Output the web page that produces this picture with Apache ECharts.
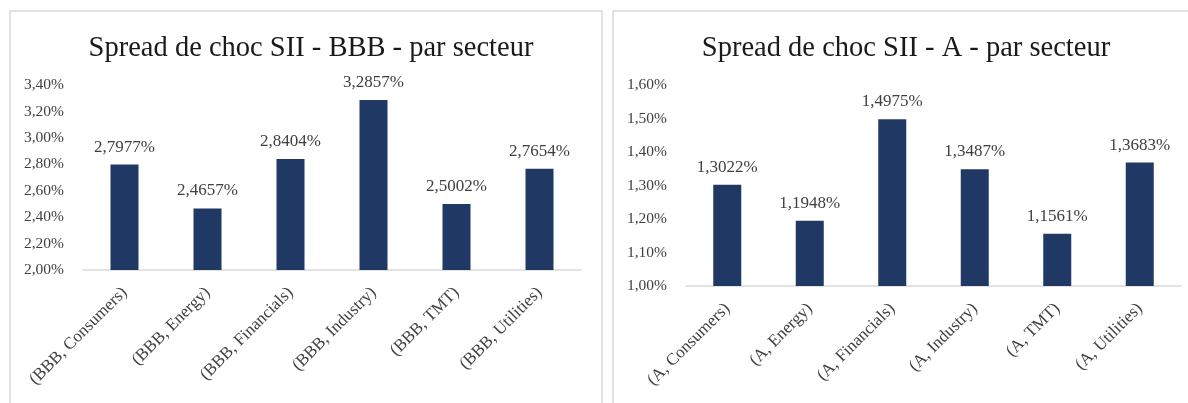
<!DOCTYPE html>
<html><head><meta charset="utf-8">
<script src="https://cdn.jsdelivr.net/npm/echarts@6/dist/echarts.min.js"></script>
<style>html,body{margin:0;padding:0;background:#fff}#c{width:1188px;height:403px}</style>
</head><body><div id="c"></div>
<script>
const titleBBB = 'Spread de choc SII - BBB - par secteur';
const titleA = 'Spread de choc SII - A - par secteur';
const catsBBB = ['(BBB, Consumers)','(BBB, Energy)','(BBB, Financials)','(BBB, Industry)','(BBB, TMT)','(BBB, Utilities)'];
const valsBBB = [2.7977, 2.4657, 2.8404, 3.2857, 2.5002, 2.7654];
const catsA = ['(A, Consumers)','(A, Energy)','(A, Financials)','(A, Industry)','(A, TMT)','(A, Utilities)'];
const valsA = [1.3022, 1.1948, 1.4975, 1.3487, 1.1561, 1.3683];
const yTicksBBB = {min: 2.0, max: 3.4, interval: 0.2};
const yTicksA = {min: 1.0, max: 1.6, interval: 0.1};

const FONT = '"Liberation Serif", "DejaVu Serif", serif';
const BAR = '#203864';
const TXT = '#404040';
const fmtAxis = v => v.toFixed(2).replace('.', ',') + '%';
const fmtLab = p => p.value.toFixed(4).replace('.', ',') + '%';

function xAxis(cats, gi) {
  return {type:'category', gridIndex:gi, data:cats,
    axisLine:{lineStyle:{color:'#d9d9d9', width:1.5}}, axisTick:{show:false},
    axisLabel:{rotate:45, color:TXT, fontFamily:FONT, fontSize:17, margin:20, interval:0}};
}
function yAxis(t, gi) {
  return {type:'value', gridIndex:gi, min:t.min, max:t.max, interval:t.interval,
    axisLine:{show:false}, axisTick:{show:false}, splitLine:{show:false},
    axisLabel:{formatter:fmtAxis, color:TXT, fontFamily:FONT, fontSize:15.5, margin:19}};
}
function series(vals, gi) {
  return {type:'bar', xAxisIndex:gi, yAxisIndex:gi, data:vals, barWidth:28,
    itemStyle:{color:BAR},
    label:{show:true, position:'top', distance:9, formatter:fmtLab, color:TXT, fontFamily:FONT, fontSize:17}};
}
const chart = echarts.init(document.getElementById('c'));
chart.setOption({
  animation:false,
  title:[
    {text:titleBBB, left:306, top:29, textAlign:'center', textStyle:{fontFamily:FONT, fontSize:28.5, fontWeight:'normal', color:'#1a1a1a'}},
    {text:titleA, left:901, top:29, textAlign:'center', textStyle:{fontFamily:FONT, fontSize:28.5, fontWeight:'normal', color:'#1a1a1a'}}
  ],
  graphic:[
    {type:'rect', shape:{x:10, y:11, width:592, height:420}, style:{fill:'none', stroke:'#d9d9d9', lineWidth:1.5}},
    {type:'rect', shape:{x:613, y:11, width:600, height:420}, style:{fill:'none', stroke:'#d9d9d9', lineWidth:1.5}}
  ],
  grid:[
    {left:83, right:607, top:85, bottom:133},
    {left:686, right:7, top:85, bottom:117}
  ],
  xAxis:[xAxis(catsBBB,0), xAxis(catsA,1)],
  yAxis:[yAxis(yTicksBBB,0), yAxis(yTicksA,1)],
  series:[series(valsBBB,0), series(valsA,1)]
});
</script></body></html>
